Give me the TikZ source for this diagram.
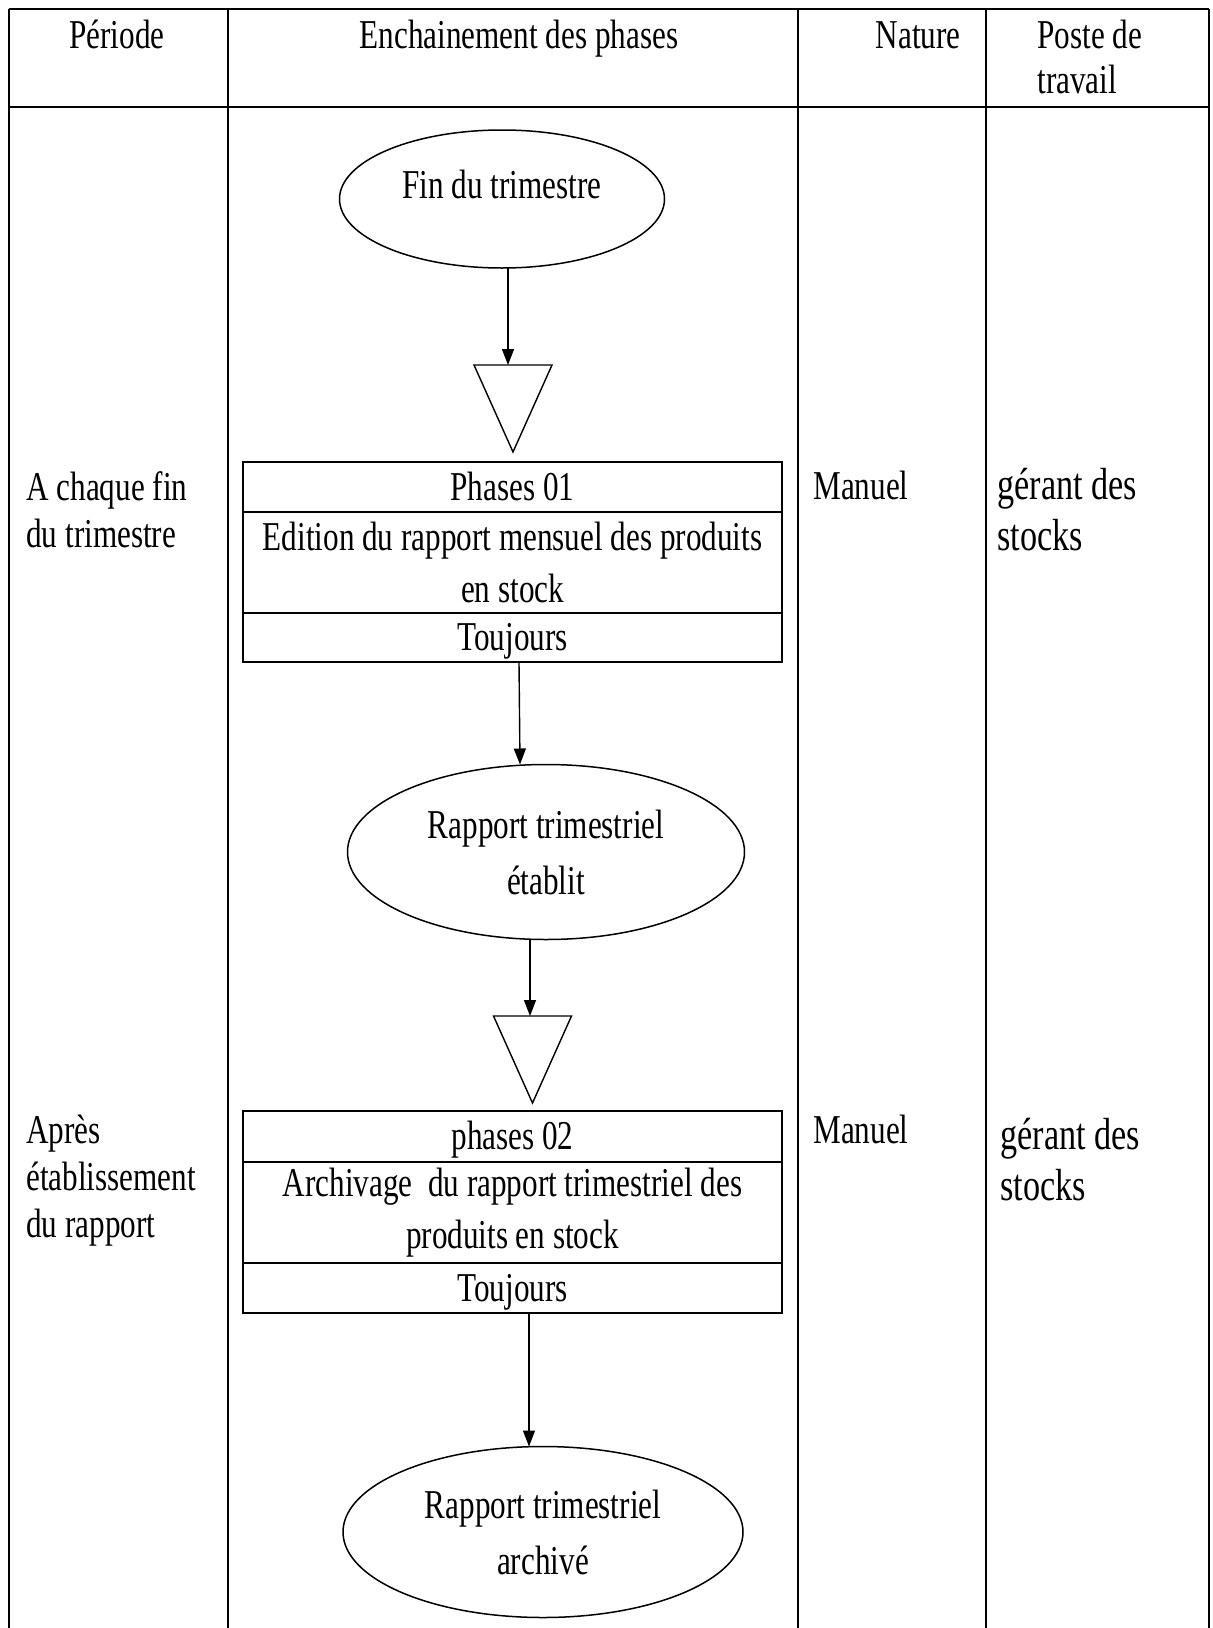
\documentclass[tikz,border=0pt]{standalone}
\usepackage{fontspec}
\setmainfont{Liberation Serif}[FakeStretch=0.76]
\usepackage{tikz}
\usetikzlibrary{calc,arrows.meta,positioning,shapes.geometric}
\newcommand{\cellsize}{\fontsize{20.5pt}{26pt}\selectfont}
\tikzset{
  grid/.style={draw=black, line width=1pt},
  flow/.style={draw=black, line width=0.7pt, -{Triangle[length=8pt,width=6pt]}},
  tri/.style={draw=black, line width=0.7pt},
  event/.style={ellipse, draw=black, line width=0.75pt, inner sep=0pt, outer sep=0pt,
    align=center, font=\fontsize{20.5pt}{28pt}\selectfont},
  row/.style={rectangle, draw=black, line width=1pt, minimum width=269.5pt,
    inner sep=0pt, outer sep=0pt, align=center, font=\cellsize},
  rowone/.style={text height=14pt, text depth=1pt},
  lab/.style={inner sep=0pt, anchor=base west, align=left, font=\cellsize},
  head/.style={inner sep=0pt, anchor=base, font=\cellsize}
}
\newcommand{\StockTri}[1]{%
  \draw[tri] (#1) ++(-39,0) -- ++(78,0) -- ++(-39,87) -- cycle;
}

\begin{document}
\begin{tikzpicture}[x=0.5pt,y=-0.5pt]
  \useasboundingbox (0,0) rectangle (1212,1628);
  % table frame
  \draw[grid] (9,9) -- (1209,9);
  \draw[grid] (9,107) -- (1209,107);
  \foreach \x in {9,228,798,986,1209} \draw[grid] (\x,9) -- (\x,1628);

  \node[head] (hper) at (117,48) {Période};
  \node[head] (hflow) at (519,48) {Enchainement des phases};
  \node[head, anchor=base east] (hnat) at (961,48) {Nature};
  \node[lab, font=\fontsize{20.5pt}{22.5pt}\selectfont] (hpost) at (1037,93) {Poste de\\travail};

  % phase 01
  \node[event, minimum width=162.5pt, minimum height=69pt, text height=14pt, text depth=15pt]
    (ev1) at (502,199) {Fin du trimestre};
  \coordinate (tr1) at (513,365);
  \StockTri{tr1}
  \draw[flow] ($(ev1.south)+(6,0)$) -- ($(tr1)+(-5,0)$);

  \node[row, rowone, minimum height=25pt, anchor=north] (ph1a) at (512.5,462) {Phases 01};
  \node[row, minimum height=50.5pt, below=0pt of ph1a] (ph1b)
    {Edition du rapport mensuel des produits\\en stock};
  \node[row, rowone, minimum height=24.5pt, below=0pt of ph1b] (ph1c) {Toujours};

  \node[event, minimum width=198.5pt, minimum height=87.5pt] (ev2) at (546,852)
    {Rapport trimestriel\\établit};
  \draw[flow] ($(ph1c.south)+(6.5,0)$) -- ($(ev2.north)+(-26,0)$);

  % phase 02
  \coordinate (tr2) at (532.5,1016);
  \StockTri{tr2}
  \draw[flow] ($(ev2.south)+(-16,0)$) -- ($(tr2)+(-2.5,0)$);

  \node[row, rowone, minimum height=25.5pt, anchor=north] (ph2a) at (512.5,1111) {phases 02};
  \node[row, minimum height=50.5pt, below=0pt of ph2a] (ph2b)
    {Archivage~ du rapport trimestriel des\\produits en stock};
  \node[row, rowone, minimum height=25pt, below=0pt of ph2b] (ph2c) {Toujours};

  \node[event, minimum width=200pt, minimum height=85.5pt] (ev3) at (543,1532)
    {Rapport trimestriel\\archivé};
  \draw[flow] ($(ph2c.south)+(16.5,0)$) -- ($(ev3.north)+(-14,0)$);

  % side columns
  \node[lab, font=\fontsize{20.5pt}{23.5pt}\selectfont] (per1) at (26,547) {A chaque fin\\du trimestre};
  \node[lab, font=\fontsize{20.5pt}{23.5pt}\selectfont] (per2) at (26,1237) {Après\\établissement\\du rapport};
  \node[lab] (nat1) at (813,499) {Manuel};
  \node[lab] (nat2) at (813,1143) {Manuel};
  \node[lab, font=\fontsize{22.5pt}{25.5pt}\selectfont] (post1) at (997,550) {gérant des\\stocks};
  \node[lab, font=\fontsize{22.5pt}{25.5pt}\selectfont] (post2) at (1000,1200) {gérant des\\stocks};
\end{tikzpicture}
\end{document}
